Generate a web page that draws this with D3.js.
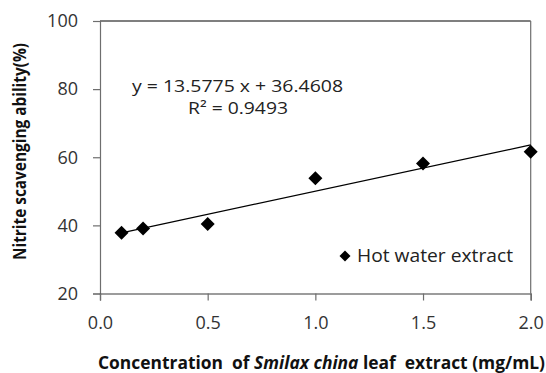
<!DOCTYPE html>
<html>
<head>
<meta charset="utf-8">
<script src="https://cdn.jsdelivr.net/npm/d3@7"></script>
<style>
  html, body { margin: 0; padding: 0; background: #fff; }
  text { font-family: "Open Sans", "DejaVu Sans", sans-serif; }
</style>
</head>
<body>
<svg id="chart" width="546" height="373"></svg>
<script>
// ---- data ----
const concentrations = [0.1, 0.2, 0.5, 1.0, 1.5, 2.0];
const scavenging = [37.85, 39.1, 40.4, 53.8, 58.2, 61.6];
const slope = 13.5775;
const intercept = 36.4608;
const xTicks = [0.0, 0.5, 1.0, 1.5, 2.0];
const yTicks = [20, 40, 60, 80, 100];
const seriesName = "Hot water extract";
const equationText = "y = 13.5775 x + 36.4608";
const r2Text = "R² = 0.9493";

const svg = d3.select("#chart");
const x = d3.scaleLinear().domain([0, 2]).range([100, 530.7]);
const y = d3.scaleLinear().domain([20, 100]).range([293.5, 21]);

// plot border (top & right)
svg.append("line").attr("x1", x(0)).attr("x2", x(2)).attr("y1", y(100)).attr("y2", y(100))
  .attr("stroke", "#000").attr("stroke-width", 1.2);
svg.append("line").attr("x1", x(2)).attr("x2", x(2)).attr("y1", y(100)).attr("y2", y(20))
  .attr("stroke", "#6e6e6e").attr("stroke-width", 1.2);

// y axis
const yAxis = d3.axisLeft(y).tickValues(yTicks).tickSize(7).tickPadding(15).tickFormat(d3.format("d"));
const gy = svg.append("g").attr("transform", `translate(${x(0)},0)`).call(yAxis);
gy.select(".domain").attr("stroke", "#6e6e6e").attr("stroke-width", 1.2);
gy.selectAll(".tick line").attr("stroke", "#6e6e6e").attr("stroke-width", 1.2);
gy.selectAll(".tick text").attr("font-size", 18).attr("fill", "#333")
  .style("font-family", '"Open Sans", sans-serif');

// x axis
const xAxis = d3.axisBottom(x).tickValues(xTicks).tickSize(7).tickPadding(16).tickFormat(d3.format(".1f"));
const gx = svg.append("g").attr("transform", `translate(0,${y(20)})`).call(xAxis);
gx.select(".domain").attr("stroke", "#3a3a3a").attr("stroke-width", 1.2);
gx.selectAll(".tick line").attr("stroke", "#6e6e6e").attr("stroke-width", 1.2);
gx.selectAll(".tick text").attr("font-size", 18).attr("fill", "#333")
  .style("font-family", '"Open Sans", sans-serif');

// trend line
const xr = d3.extent(concentrations);
svg.append("line")
  .attr("x1", x(xr[0])).attr("y1", y(slope * xr[0] + intercept))
  .attr("x2", x(xr[1])).attr("y2", y(slope * xr[1] + intercept))
  .attr("stroke", "#000").attr("stroke-width", 1.2);

// points
function diamondPath(r) {
  return `M0,${-r}L${r},0L0,${r}L${-r},0Z`;
}
svg.append("g").selectAll("path").data(concentrations).join("path")
  .attr("transform", (d, i) => `translate(${x(d)},${y(scavenging[i])})`)
  .attr("d", diamondPath(7))
  .attr("fill", "#000");

// equation
svg.append("text").attr("x", 132).attr("y", 86).attr("dy", "0.35em")
  .attr("font-size", 17).attr("fill", "#222")
  .attr("textLength", 211).attr("lengthAdjust", "spacingAndGlyphs")
  .text(equationText);
svg.append("text").attr("x", 188).attr("y", 108).attr("dy", "0.35em")
  .attr("font-size", 17).attr("fill", "#222")
  .attr("textLength", 100).attr("lengthAdjust", "spacingAndGlyphs")
  .text(r2Text);

// legend
svg.append("path").attr("transform", "translate(345,256)").attr("d", diamondPath(5.5)).attr("fill", "#000");
svg.append("text").attr("x", 357).attr("y", 256).attr("dy", "0.35em")
  .attr("font-size", 18).attr("fill", "#222")
  .attr("textLength", 156).attr("lengthAdjust", "spacingAndGlyphs")
  .text(seriesName);

// x axis title
const xt = svg.append("text").attr("x", 98).attr("y", 363).attr("dy", "0.35em")
  .attr("font-size", 17).attr("font-weight", "bold").attr("fill", "#111")
  .style("white-space", "pre")
  .attr("textLength", 447).attr("lengthAdjust", "spacingAndGlyphs");
xt.append("tspan").text("Concentration  of ");
xt.append("tspan").attr("font-style", "italic").text("Smilax china");
xt.append("tspan").text(" leaf  extract (mg/mL)");

// y axis title
svg.append("text")
  .attr("transform", "translate(20,151.5) rotate(-90)")
  .attr("text-anchor", "middle").attr("dy", "0.35em")
  .attr("font-size", 17).attr("font-weight", "bold").attr("fill", "#111")
  .attr("textLength", 217).attr("lengthAdjust", "spacingAndGlyphs")
  .text("Nitrite scavenging ability(%)");
</script>
</body>
</html>
